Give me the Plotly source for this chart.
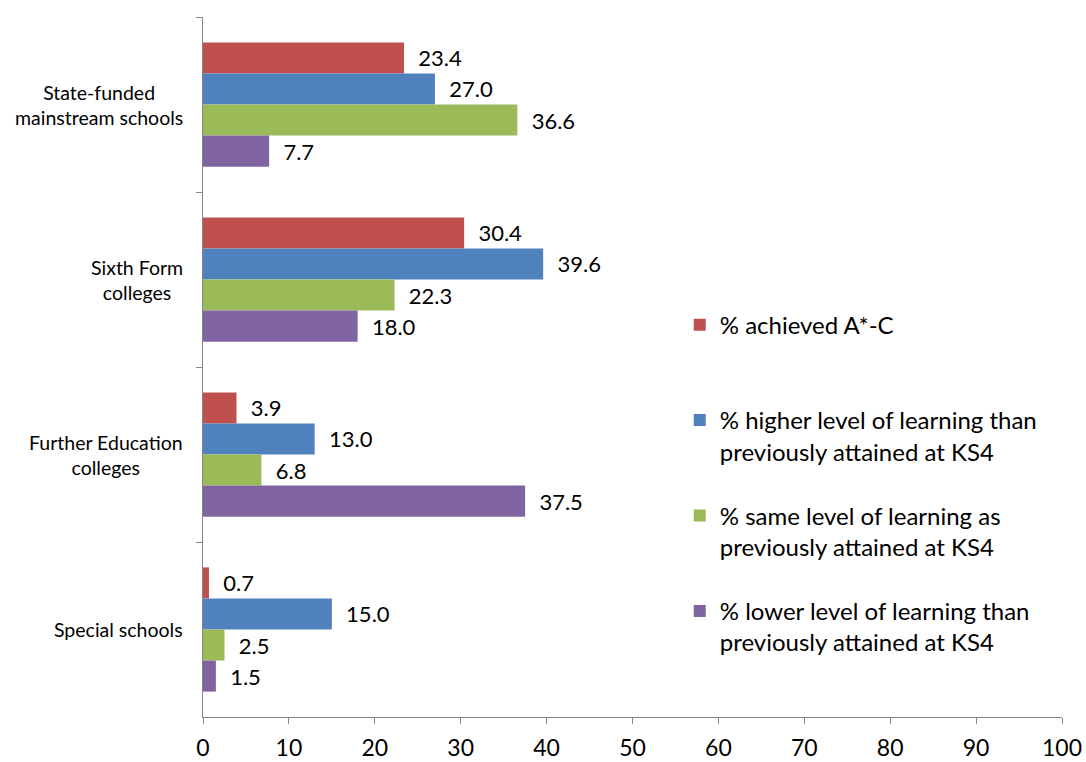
import plotly.graph_objects as go

categories = ["State-funded<br>mainstream schools", "Sixth Form<br>colleges",
              "Further Education<br>colleges", "Special schools"]
series_names = ["% achieved A*-C",
                "% higher level of learning than<br>previously attained at KS4",
                "% same level of learning as<br>previously attained at KS4",
                "% lower level of learning than<br>previously attained at KS4"]
achieved = [23.4, 30.4, 3.9, 0.7]
higher = [27.0, 39.6, 13.0, 15.0]
same = [36.6, 22.3, 6.8, 2.5]
lower = [7.7, 18.0, 37.5, 1.5]
x_ticks = [0, 10, 20, 30, 40, 50, 60, 70, 80, 90, 100]

colors = ["#C0504D", "#4F81BD", "#9BBB59", "#8064A2"]
FONT = "Lato, Calibri, Arial, sans-serif"

fig = go.Figure()
for i, (name, vals) in enumerate(zip(series_names, [achieved, higher, same, lower])):
    label = name if "<br>" in name else name + "<br> "
    fig.add_trace(go.Bar(
        y=categories, x=vals, orientation="h", name=label,
        legendgroup=f"g{i}",
        marker=dict(color=colors[i], line=dict(width=0)),
        text=vals, texttemplate="\u00a0\u00a0%{x:.1f}", textposition="outside",
        constraintext="none", cliponaxis=False,
        textfont=dict(family=FONT, size=22, color="#000000"),
    ))

for c in categories:
    fig.add_annotation(x=0, xref="paper", y=c, yref="y", text=c, showarrow=False,
                       xanchor="right", xshift=-18, align="center",
                       font=dict(family=FONT, size=19.5, color="#000000"))

fig.update_layout(
    width=1086, height=762,
    margin=dict(l=203, r=24, t=17, b=45, autoexpand=False),
    paper_bgcolor="white", plot_bgcolor="white",
    barmode="group", bargap=0.29, bargroupgap=0,
    font=dict(family=FONT, color="#000000"),
    legend=dict(x=0.555, xanchor="left", y=0.592, yanchor="top",
                valign="top", tracegroupgap=30, itemwidth=30,
                font=dict(family=FONT, size=24, color="#000000"),
                bgcolor="rgba(0,0,0,0)"),
    xaxis=dict(range=[0, 100], tickvals=x_ticks, showgrid=False, zeroline=False,
               showline=True, linecolor="#868686", linewidth=1,
               ticks="outside", ticklen=6, tickcolor="#868686",
               ticklabelstandoff=4, automargin=False,
               tickfont=dict(family=FONT, size=23, color="#000000")),
    yaxis=dict(autorange="reversed", showgrid=False, zeroline=False,
               showline=True, linecolor="#868686", linewidth=1,
               ticks="outside", ticklen=6, tickcolor="#868686",
               tickson="boundaries", showticklabels=False, automargin=False),
)

fig.write_html("out.html")
